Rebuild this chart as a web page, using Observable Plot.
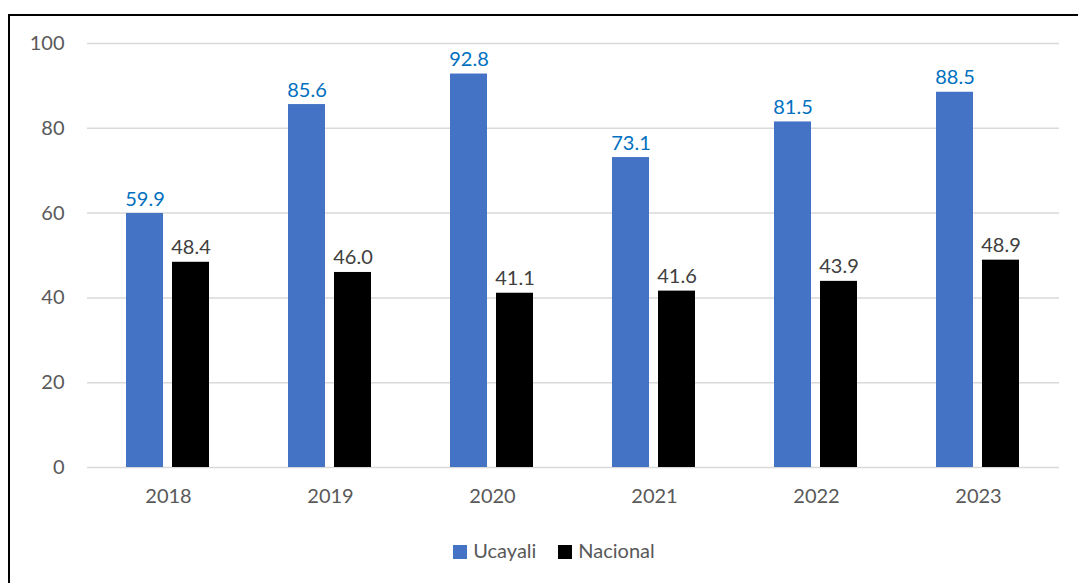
<!DOCTYPE html>
<html><head><meta charset="utf-8">
<script src="https://cdn.jsdelivr.net/npm/d3@7"></script>
<script src="https://cdn.jsdelivr.net/npm/@observablehq/plot@0.6"></script>
<style>
html,body{margin:0;padding:0;background:#fff;width:1078px;height:583px;overflow:hidden;font-family:Lato,"Open Sans",sans-serif;}
#frame{position:absolute;left:8px;top:14px;width:1070px;height:569px;border-left:2px solid #000;border-top:2px solid #000;box-sizing:border-box;}
#chart{position:absolute;left:0;top:0;}
#legend{position:absolute;top:538px;left:0;width:1078px;display:flex;justify-content:center;gap:22px;font-size:20px;color:#595959;padding-left:30px;box-sizing:border-box;}
#legend span.sw{display:inline-block;width:14px;height:14px;margin-right:6px;vertical-align:-1px;}
</style></head>
<body>
<div id="frame"></div>
<div id="chart"></div>
<div id="legend"></div>
<script>
const years = ["2018","2019","2020","2021","2022","2023"];
const series = ["Ucayali","Nacional"];
const ucayali = [59.9,85.6,92.8,73.1,81.5,88.5];
const nacional = [48.4,46.0,41.1,41.6,43.9,48.9];
const yTicks = [0,20,40,60,80,100];
const colors = ["#4472C4","#000000"];
const labelColors = ["#0070C0","#404040"];

const data = [];
years.forEach((y,i)=>{
  data.push({year:y, series:series[0], value:ucayali[i]});
  data.push({year:y, series:series[1], value:nacional[i]});
});

const chart = Plot.plot({
  width:1078, height:530,
  marginLeft:85, marginRight:17, marginTop:43, marginBottom:63,
  style:{fontFamily:"Lato, 'Open Sans', sans-serif", fontSize:"20px", color:"#595959", background:"transparent"},
  fx:{domain:years, padding:0, axis:"bottom", label:null, tickSize:0, tickPadding:21},
  x:{domain:series, axis:null, paddingInner:0.19, paddingOuter:0.825},
  y:{domain:[0,100], ticks:yTicks, label:null, tickSize:0, tickPadding:23},
  color:{domain:series, range:colors},
  marks:[
    Plot.ruleY(yTicks, {stroke:"#d9d9d9", strokeWidth:1.5}),
    Plot.barY(data, {fx:"year", x:"series", y:"value", fill:"series"}),
    Plot.text(data, {fx:"year", x:"series", y:"value", text:d=>d.value.toFixed(1),
      fill:d=>labelColors[series.indexOf(d.series)], dy:-8, lineAnchor:"bottom", fontSize:20})
  ]
});
document.getElementById("chart").appendChild(chart);

const lg = document.getElementById("legend");
series.forEach((s,i)=>{
  const el = document.createElement("div");
  el.innerHTML = `<span class="sw" style="background:${colors[i]}"></span>${s}`;
  lg.appendChild(el);
});
</script>
</body></html>
